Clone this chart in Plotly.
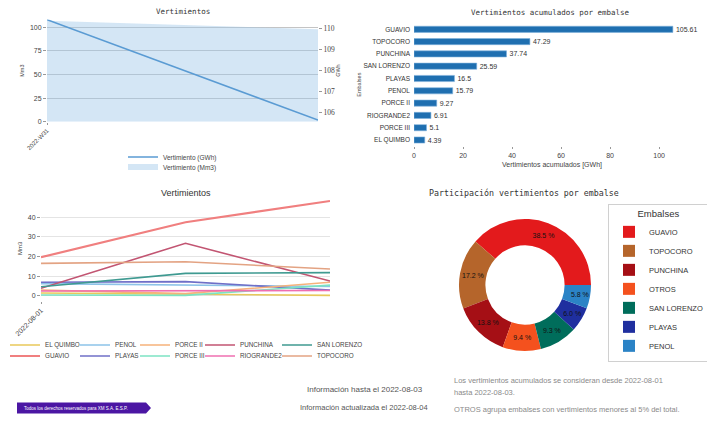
import plotly.graph_objects as go

# ---------------- data ----------------
# weekly totals (first and last reading of the period)
week_x = [0, 1]
week_label = "2022-W31"
week_mm3 = [107.0, 97.9]
week_gwh = [110.4, 105.65]

# accumulated spill per reservoir [GWh]
reservoirs = ["GUAVIO", "TOPOCORO", "PUNCHINA", "SAN LORENZO", "PLAYAS",
              "PENOL", "PORCE II", "RIOGRANDE2", "PORCE III", "EL QUIMBO"]
accum_gwh = [105.61, 47.29, 37.74, 25.59, 16.5, 15.79, 9.27, 6.91, 5.1, 4.39]

# daily spill per reservoir [Mm3]
days = ["2022-08-01", "2022-08-02", "2022-08-03"]
el_quimbo = [1.5, 1.0, 0.3]
penol = [6.3, 5.5, 4.8]
porce_ii = [3.0, 1.2, 7.0]
punchina = [3.9, 26.8, 7.6]
san_lorenzo = [4.7, 11.5, 11.9]
guavio = [19.7, 37.5, 48.3]
playas = [7.0, 7.3, 3.0]
porce_iii = [0.5, 0.3, 5.5]
riogrande2 = [2.5, 2.5, 2.8]
topocoro = [16.6, 17.4, 13.7]

daily_series = [
    ("EL QUIMBO", el_quimbo, "#e8c95a"), ("GUAVIO", guavio, "#f07f7f"),
    ("PENOL", penol, "#8dc3e8"), ("PLAYAS", playas, "#6f6fc7"),
    ("PORCE II", porce_ii, "#f6b27a"), ("PORCE III", porce_iii, "#7ce3c3"),
    ("PUNCHINA", punchina, "#c25572"), ("RIOGRANDE2", riogrande2, "#ef6fb0"),
    ("SAN LORENZO", san_lorenzo, "#3f9a91"), ("TOPOCORO", topocoro, "#e3a383"),
]

# share of the accumulated total; small reservoirs grouped as OTROS
threshold = 5.0
total = sum(accum_gwh)
share_labels, share_values = [], []
otros = 0.0
for name, v in zip(reservoirs, accum_gwh):
    if 100 * v / total < threshold:
        otros += v
    else:
        share_labels.append(name)
        share_values.append(v)
share_labels.append("OTROS")
share_values.append(otros)
order = sorted(range(len(share_values)), key=lambda i: -share_values[i])
share_labels = [share_labels[i] for i in order]
share_values = [share_values[i] for i in order]
share_text = [f"{100 * v / total:.1f} %" for v in share_values]
share_colors = {"GUAVIO": "#e31a1c", "TOPOCORO": "#b5652b", "PUNCHINA": "#a50f15",
                "OTROS": "#f4511e", "SAN LORENZO": "#006d5b", "PLAYAS": "#1f2f9f",
                "PENOL": "#2b83c6"}

# ---------------- layout helpers ----------------
W, H = 707, 421


def fx(p):
    return p / W


def fy(p):
    return 1 - p / H


SANS = "Liberation Sans, sans-serif"
MONO = "DejaVu Sans Mono, monospace"
TXT = "#444444"
LEG_TEXT_OFFSET = 40  # swatch + gap in front of a legend label

fig = go.Figure()
legends = {}


def legend_slot(key, text_x, y_mid, size=6.3):
    legends[key] = dict(x=fx(text_x - LEG_TEXT_OFFSET), y=fy(y_mid),
                        xanchor="left", yanchor="middle",
                        font=dict(size=size, color=TXT, family=SANS),
                        bgcolor="rgba(0,0,0,0)", itemwidth=30)


# weekly chart
legend_slot("legend", 163, 157, 6.5)
legend_slot("legend12", 163, 167, 6.5)
fig.add_trace(go.Scatter(
    x=week_x, y=week_mm3, name="Vertimiento (Mm3)", mode="none", fill="tozeroy",
    fillcolor="rgba(160,200,232,0.45)", xaxis="x", yaxis="y", legend="legend12"))
fig.add_trace(go.Scatter(
    x=week_x, y=week_gwh, name="Vertimiento (GWh)", mode="lines",
    line=dict(color="#5a9bd3", width=1.6), xaxis="x", yaxis="y2", legend="legend"))

# accumulated bars
fig.add_trace(go.Bar(
    x=accum_gwh, y=reservoirs, orientation="h", width=0.5,
    marker=dict(color="#1f6fb0", line=dict(color="#7fb2dc", width=0.6)),
    text=accum_gwh, texttemplate="%{x}", textposition="outside",
    textfont=dict(size=6.5, color="#333", family=SANS), cliponaxis=False,
    xaxis="x2", yaxis="y3", showlegend=False))

# daily lines; legend laid out in five columns of two rows
col_text_x = [45, 115, 175, 240, 317]
row_y = [345, 356]
for i, (name, vals, col) in enumerate(daily_series):
    key = f"legend{i + 2}"
    legend_slot(key, col_text_x[i // 2], row_y[i % 2])
    fig.add_trace(go.Scatter(
        x=days, y=vals, name=name, mode="lines",
        line=dict(color=col, width=2.2 if name == "GUAVIO" else 1.6),
        xaxis="x3", yaxis="y4", legend=key))

# share donut
fig.add_trace(go.Pie(
    labels=share_labels, values=share_values, text=share_text, textinfo="text",
    hole=0.6, sort=False, direction="counterclockwise",
    rotation=90 - 360 * share_values[0] / sum(share_values),
    marker=dict(colors=[share_colors[l] for l in share_labels], line=dict(width=0)),
    textposition="inside", insidetextorientation="horizontal",
    textfont=dict(size=7.5, color="#111", family=SANS),
    domain=dict(x=[fx(459), fx(591)], y=[fy(351), fy(219)]),
    legend="legend13", hoverinfo="label+percent"))
legends["legend13"] = dict(x=fx(608), y=fy(283), xanchor="left", yanchor="middle",
                           font=dict(size=7.5, color="#333", family=SANS), bgcolor="white",
                           bordercolor="#d0d0d0", borderwidth=1,
                           title=dict(text="Embalses", side="top center",
                                      font=dict(size=9.5, color="#333")))

tickf = dict(size=7, color=TXT, family=SANS)

fig.update_layout(
    width=W, height=H, margin=dict(l=0, r=0, t=0, b=0, autoexpand=False),
    paper_bgcolor="white", plot_bgcolor="white",
    font=dict(family=SANS, color=TXT),
    uniformtext=dict(minsize=7, mode="show"),
    xaxis=dict(domain=[fx(47), fx(318)], range=[0, 1], tickvals=[0],
               ticktext=[week_label], tickangle=-45, tickfont=dict(size=6, color=TXT),
               showgrid=False, zeroline=False, anchor="y",
               ticks="outside", ticklen=2, tickcolor="#999"),
    yaxis=dict(domain=[fy(121.7), fy(19.5)], range=[0, 108.3],
               tickvals=[0, 25, 50, 75, 100], tickfont=tickf,
               gridcolor="#c4c4c4", gridwidth=1, zeroline=False, anchor="x",
               ticks="outside", ticklen=3, tickcolor="#999",
               title=dict(text="Mm3", font=dict(size=5.5, color=TXT), standoff=4)),
    yaxis2=dict(overlaying="y", side="right", anchor="x",
                range=[105.57, 110.41], tickvals=[106, 107, 108, 109, 110],
                tickfont=dict(size=7.5, color=TXT, family="Liberation Serif, serif"),
                showgrid=False, zeroline=False,
                ticks="outside", ticklen=3, tickcolor="#999",
                title=dict(text="GWh", font=dict(size=5.5, color=TXT), standoff=2)),
    xaxis2=dict(domain=[fx(414), fx(690)], range=[0, 112.6], anchor="y3",
                tickvals=[0, 20, 40, 60, 80, 100], tickfont=tickf,
                showgrid=False, zeroline=False, showline=False,
                ticks="outside", ticklen=2, tickcolor="#999",
                title=dict(text="Vertimientos acumulados [GWh]",
                           font=dict(size=7, color=TXT), standoff=4)),
    yaxis3=dict(domain=[fy(146.15), fy(23.15)], anchor="x2",
                categoryorder="array", categoryarray=reservoirs,
                autorange="reversed", tickfont=dict(size=6.5, color="#333", family=SANS),
                showgrid=False, zeroline=False, ticks="", ticklabelstandoff=3,
                title=dict(text="Embalses", font=dict(size=5.5, color=TXT), standoff=1)),
    xaxis3=dict(domain=[fx(41), fx(330)], anchor="y4", type="date",
                range=[days[0], days[-1]], tickvals=[days[0]], ticktext=[days[0]],
                tickangle=-45, tickfont=tickf, showgrid=False, zeroline=False,
                ticks="outside", ticklen=2, tickcolor="#999"),
    yaxis4=dict(domain=[fy(300.7), fy(195.7)], anchor="x3", range=[-2.4, 51],
                tickvals=[0, 10, 20, 30, 40], tickfont=tickf,
                gridcolor="#e4e4e4", zeroline=False,
                ticks="outside", ticklen=3, tickcolor="#999",
                title=dict(text="Mm3", font=dict(size=6, color=TXT), standoff=4)),
    **legends,
)

# chart titles
titles = [
    ("Vertimientos", 183, 11.7, MONO, 7.5),
    ("Vertimientos acumulados por embalse", 550, 12.7, MONO, 7.5),
    ("Vertimientos", 186, 192.7, SANS, 9),
    ("Participación vertimientos por embalse", 524, 193, MONO, 8.3),
]
for text, x, y, fam, size in titles:
    fig.add_annotation(text=text, x=fx(x), y=fy(y), xref="paper", yref="paper",
                       xanchor="center", yanchor="middle", showarrow=False,
                       font=dict(family=fam, size=size, color="#333"))

# footer notes
notes = [
    ("Información hasta el 2022-08-03", 425, 389, "right", "#555", 8),
    ("Información actualizada el 2022-08-04", 430, 407, "right", "#555", 7.5),
    ("Los vertimientos acumulados se consideran desde 2022-08-01", 452, 380, "left", "#8a8a8a", 7.5),
    ("hasta 2022-08-03.", 452, 392, "left", "#8a8a8a", 7.5),
    ("OTROS agrupa embalses con vertimientos menores al 5% del total.", 452, 409, "left", "#8a8a8a", 7.5),
]
for text, x, y, anchor, col, size in notes:
    fig.add_annotation(text=text, x=fx(x), y=fy(y), xref="paper", yref="paper",
                       xanchor=anchor, yanchor="middle", showarrow=False,
                       font=dict(family=SANS, size=size, color=col))

# copyright ribbon
x0, x1, xt = fx(17), fx(146), fx(151)
y0, y1, ym = fy(413.5), fy(402.5), fy(408)
fig.add_shape(type="path", xref="paper", yref="paper",
              path=f"M {x0} {y0} L {x1} {y0} L {xt} {ym} L {x1} {y1} L {x0} {y1} Z",
              fillcolor="#4b16a3", line=dict(width=0), layer="above")
fig.add_annotation(text="Todos los derechos reservados para XM S.A. E.S.P.",
                   x=fx(22), y=fy(408), xref="paper", yref="paper",
                   xanchor="left", yanchor="middle", showarrow=False,
                   font=dict(family=SANS, size=4.5, color="white"))

fig.write_html("out.html")
